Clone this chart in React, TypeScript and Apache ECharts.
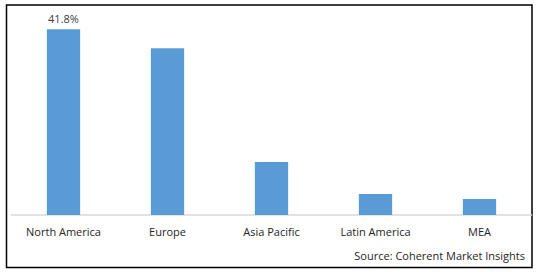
import React, { useEffect, useRef } from "react";
import * as echarts from "echarts";

const categories = ["North America", "Europe", "Asia Pacific", "Latin America", "MEA"];
const shares = [41.8, 37.5, 11.9, 4.7, 3.6];
const labelledIndex = 0;
const sourceText = "Source: Coherent Market Insights";

const FONT = "'Open Sans', Lato, sans-serif";

export default function App() {
  const ref = useRef<HTMLDivElement>(null);
  useEffect(() => {
    if (!ref.current) return;
    const chart = echarts.init(ref.current, null, { renderer: "svg" });
    chart.setOption({
      animation: false,
      backgroundColor: "#ffffff",
      textStyle: { fontFamily: FONT },
      grid: { left: 11.5, right: 6.5, top: 15, bottom: 57, containLabel: false },
      xAxis: {
        type: "category",
        data: categories,
        axisLine: { show: true, lineStyle: { color: "#d9d9d9", width: 1.5 } },
        axisTick: { show: false },
        axisLabel: { color: "#262626", fontSize: 11, margin: 11, interval: 0, fontFamily: FONT },
      },
      yAxis: {
        type: "value",
        min: 0,
        max: 45,
        show: false,
        splitLine: { show: false },
      },
      series: [
        {
          type: "bar",
          data: shares.map((v, i) => ({
            value: v,
            label: {
              show: i === labelledIndex,
              position: "top",
              distance: 5,
              formatter: (p: any) => p.value.toFixed(1) + "%",
              color: "#404040",
              fontSize: 11,
              fontFamily: FONT,
            },
          })),
          barWidth: "32%",
          itemStyle: { color: "#5B9BD5" },
        },
      ],
      graphic: [
        {
          type: "rect",
          shape: { x: 6.5, y: 5, width: 525.5, height: 262.5 },
          style: { fill: "none", stroke: "#000000", lineWidth: 1.5 },
          silent: true,
        },
        {
          type: "text",
          right: 13,
          top: 250,
          style: {
            text: sourceText,
            fill: "#262626",
            fontSize: 11,
            fontFamily: FONT,
          },
        },
      ],
    });
    return () => chart.dispose();
  }, []);
  return (
    <div
      ref={ref}
      style={{ position: "fixed", left: 0, top: 0, width: 538, height: 272 }}
    />
  );
}
